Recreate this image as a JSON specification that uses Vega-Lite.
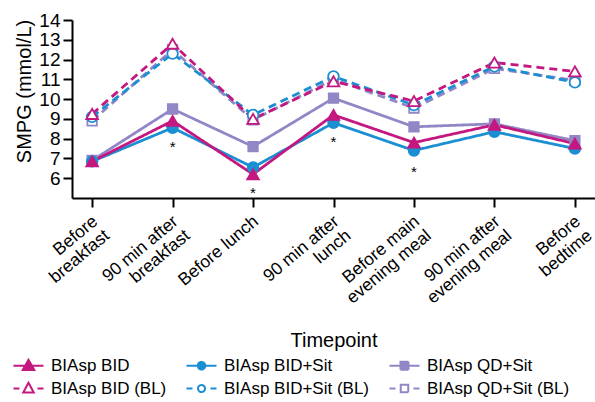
{
  "$schema": "https://vega.github.io/schema/vega-lite/v6.json",
  "width": 523,
  "height": 178,
  "autosize": {"type": "none"},
  "padding": {"left": 72, "top": 20, "right": 0, "bottom": 204},
  "config": {
    "font": "Liberation Sans",
    "view": {"stroke": null},
    "axis": {"domainColor": "black", "domainWidth": 2, "tickColor": "black", "tickWidth": 2, "labelColor": "black", "titleColor": "black", "grid": false, "labelFont": "Liberation Sans", "titleFont": "Liberation Sans", "titleFontWeight": "normal"}
  },
  "datasets": {
    "smpg": [
      {"Timepoint": "Before breakfast", "Series": "BIAsp QD+Sit (BL)", "Treatment": "QD+Sit", "Baseline": "Yes", "SMPG": 8.9},
      {"Timepoint": "90 min after breakfast", "Series": "BIAsp QD+Sit (BL)", "Treatment": "QD+Sit", "Baseline": "Yes", "SMPG": 12.5},
      {"Timepoint": "Before lunch", "Series": "BIAsp QD+Sit (BL)", "Treatment": "QD+Sit", "Baseline": "Yes", "SMPG": 8.95},
      {"Timepoint": "90 min after lunch", "Series": "BIAsp QD+Sit (BL)", "Treatment": "QD+Sit", "Baseline": "Yes", "SMPG": 11.0},
      {"Timepoint": "Before main evening meal", "Series": "BIAsp QD+Sit (BL)", "Treatment": "QD+Sit", "Baseline": "Yes", "SMPG": 9.55},
      {"Timepoint": "90 min after evening meal", "Series": "BIAsp QD+Sit (BL)", "Treatment": "QD+Sit", "Baseline": "Yes", "SMPG": 11.55},
      {"Timepoint": "Before bedtime", "Series": "BIAsp QD+Sit (BL)", "Treatment": "QD+Sit", "Baseline": "Yes", "SMPG": 10.95},
      {"Timepoint": "Before breakfast", "Series": "BIAsp BID+Sit (BL)", "Treatment": "BID+Sit", "Baseline": "Yes", "SMPG": 9.1},
      {"Timepoint": "90 min after breakfast", "Series": "BIAsp BID+Sit (BL)", "Treatment": "BID+Sit", "Baseline": "Yes", "SMPG": 12.3},
      {"Timepoint": "Before lunch", "Series": "BIAsp BID+Sit (BL)", "Treatment": "BID+Sit", "Baseline": "Yes", "SMPG": 9.2},
      {"Timepoint": "90 min after lunch", "Series": "BIAsp BID+Sit (BL)", "Treatment": "BID+Sit", "Baseline": "Yes", "SMPG": 11.15},
      {"Timepoint": "Before main evening meal", "Series": "BIAsp BID+Sit (BL)", "Treatment": "BID+Sit", "Baseline": "Yes", "SMPG": 9.7},
      {"Timepoint": "90 min after evening meal", "Series": "BIAsp BID+Sit (BL)", "Treatment": "BID+Sit", "Baseline": "Yes", "SMPG": 11.65},
      {"Timepoint": "Before bedtime", "Series": "BIAsp BID+Sit (BL)", "Treatment": "BID+Sit", "Baseline": "Yes", "SMPG": 10.85},
      {"Timepoint": "Before breakfast", "Series": "BIAsp BID (BL)", "Treatment": "BID", "Baseline": "Yes", "SMPG": 9.25},
      {"Timepoint": "90 min after breakfast", "Series": "BIAsp BID (BL)", "Treatment": "BID", "Baseline": "Yes", "SMPG": 12.8},
      {"Timepoint": "Before lunch", "Series": "BIAsp BID (BL)", "Treatment": "BID", "Baseline": "Yes", "SMPG": 9.0},
      {"Timepoint": "90 min after lunch", "Series": "BIAsp BID (BL)", "Treatment": "BID", "Baseline": "Yes", "SMPG": 10.9},
      {"Timepoint": "Before main evening meal", "Series": "BIAsp BID (BL)", "Treatment": "BID", "Baseline": "Yes", "SMPG": 9.9},
      {"Timepoint": "90 min after evening meal", "Series": "BIAsp BID (BL)", "Treatment": "BID", "Baseline": "Yes", "SMPG": 11.85},
      {"Timepoint": "Before bedtime", "Series": "BIAsp BID (BL)", "Treatment": "BID", "Baseline": "Yes", "SMPG": 11.4},
      {"Timepoint": "Before breakfast", "Series": "BIAsp QD+Sit", "Treatment": "QD+Sit", "Baseline": "No", "SMPG": 6.9},
      {"Timepoint": "90 min after breakfast", "Series": "BIAsp QD+Sit", "Treatment": "QD+Sit", "Baseline": "No", "SMPG": 9.5},
      {"Timepoint": "Before lunch", "Series": "BIAsp QD+Sit", "Treatment": "QD+Sit", "Baseline": "No", "SMPG": 7.6},
      {"Timepoint": "90 min after lunch", "Series": "BIAsp QD+Sit", "Treatment": "QD+Sit", "Baseline": "No", "SMPG": 10.05},
      {"Timepoint": "Before main evening meal", "Series": "BIAsp QD+Sit", "Treatment": "QD+Sit", "Baseline": "No", "SMPG": 8.6},
      {"Timepoint": "90 min after evening meal", "Series": "BIAsp QD+Sit", "Treatment": "QD+Sit", "Baseline": "No", "SMPG": 8.75},
      {"Timepoint": "Before bedtime", "Series": "BIAsp QD+Sit", "Treatment": "QD+Sit", "Baseline": "No", "SMPG": 7.9},
      {"Timepoint": "Before breakfast", "Series": "BIAsp BID+Sit", "Treatment": "BID+Sit", "Baseline": "No", "SMPG": 6.85},
      {"Timepoint": "90 min after breakfast", "Series": "BIAsp BID+Sit", "Treatment": "BID+Sit", "Baseline": "No", "SMPG": 8.55},
      {"Timepoint": "Before lunch", "Series": "BIAsp BID+Sit", "Treatment": "BID+Sit", "Baseline": "No", "SMPG": 6.55},
      {"Timepoint": "90 min after lunch", "Series": "BIAsp BID+Sit", "Treatment": "BID+Sit", "Baseline": "No", "SMPG": 8.8},
      {"Timepoint": "Before main evening meal", "Series": "BIAsp BID+Sit", "Treatment": "BID+Sit", "Baseline": "No", "SMPG": 7.4},
      {"Timepoint": "90 min after evening meal", "Series": "BIAsp BID+Sit", "Treatment": "BID+Sit", "Baseline": "No", "SMPG": 8.35},
      {"Timepoint": "Before bedtime", "Series": "BIAsp BID+Sit", "Treatment": "BID+Sit", "Baseline": "No", "SMPG": 7.5},
      {"Timepoint": "Before breakfast", "Series": "BIAsp BID", "Treatment": "BID", "Baseline": "No", "SMPG": 6.85},
      {"Timepoint": "90 min after breakfast", "Series": "BIAsp BID", "Treatment": "BID", "Baseline": "No", "SMPG": 8.9},
      {"Timepoint": "Before lunch", "Series": "BIAsp BID", "Treatment": "BID", "Baseline": "No", "SMPG": 6.2},
      {"Timepoint": "90 min after lunch", "Series": "BIAsp BID", "Treatment": "BID", "Baseline": "No", "SMPG": 9.2},
      {"Timepoint": "Before main evening meal", "Series": "BIAsp BID", "Treatment": "BID", "Baseline": "No", "SMPG": 7.8},
      {"Timepoint": "90 min after evening meal", "Series": "BIAsp BID", "Treatment": "BID", "Baseline": "No", "SMPG": 8.7},
      {"Timepoint": "Before bedtime", "Series": "BIAsp BID", "Treatment": "BID", "Baseline": "No", "SMPG": 7.75}
    ],
    "stars": [
      {"Timepoint": "90 min after breakfast", "SMPG": 7.8},
      {"Timepoint": "Before lunch", "SMPG": 5.47},
      {"Timepoint": "90 min after lunch", "SMPG": 8.05},
      {"Timepoint": "Before main evening meal", "SMPG": 6.52}
    ]
  },
  "encoding": {
    "x": {
      "field": "Timepoint", "type": "nominal", "title": "Timepoint",
      "scale": {"type": "point", "padding": 0.25, "domain": ["Before breakfast", "90 min after breakfast", "Before lunch", "90 min after lunch", "Before main evening meal", "90 min after evening meal", "Before bedtime"]},
      "axis": {
        "labelAngle": -40, "labelAlign": "right", "labelBaseline": "top", "labelFontSize": 17.5, "labelLineHeight": 18.5,
        "tickSize": 9, "labelPadding": 5, "labelOffset": -3, "labelLimit": 0, "labelOverlap": false,
        "labelExpr": "datum.label == 'Before breakfast' ? ['Before', 'breakfast'] : datum.label == '90 min after breakfast' ? ['90 min after', 'breakfast'] : datum.label == '90 min after lunch' ? ['90 min after', 'lunch'] : datum.label == 'Before main evening meal' ? ['Before main', 'evening meal'] : datum.label == '90 min after evening meal' ? ['90 min after', 'evening meal'] : datum.label == 'Before bedtime' ? ['Before', 'bedtime'] : datum.label",
        "titleFontSize": 20, "titleY": 148, "titleBaseline": "alphabetic"
      }
    },
    "y": {
      "field": "SMPG", "type": "quantitative", "title": "SMPG (mmol/L)",
      "scale": {"domain": [5, 14], "nice": false, "zero": false},
      "axis": {
        "values": [6, 7, 8, 9, 10, 11, 12, 13, 14], "tickSize": 9, "labelPadding": 3, "labelFontSize": 19,
        "titleFontSize": 20, "titleX": -48, "titleY": 71, "titleAlign": "center", "titleBaseline": "middle", "titleAngle": -90
      }
    }
  },
  "layer": [
    {
      "data": {"name": "smpg"},
      "mark": {"type": "line", "strokeWidth": 2.8},
      "encoding": {
        "stroke": {
          "field": "Series", "type": "nominal",
          "scale": {"domain": ["BIAsp BID", "BIAsp BID+Sit", "BIAsp QD+Sit", "BIAsp BID (BL)", "BIAsp BID+Sit (BL)", "BIAsp QD+Sit (BL)"], "range": ["#c4177f", "#1b8fd2", "#9287c6", "#c4177f", "#1b8fd2", "#9287c6"]},
          "legend": {
            "orient": "none", "legendX": -52, "legendY": 337, "direction": "horizontal", "columns": 3, "title": null, "padding": 0,
            "symbolSize": 100, "labelFontSize": 17, "labelOffset": 14, "columnPadding": 15, "rowPadding": 4, "labelColor": "black", "labelFont": "Liberation Sans",
            "encode": {
              "symbols": {
                "update": {
                  "shape": {"signal": "datum.value == 'BIAsp BID' ? 'M-3,0H3M0,-1.15L1.15,0.85H-1.15Z' : datum.value == 'BIAsp BID+Sit' ? 'M-3,0H3M-0.75,0A0.75,0.75 0 1,0 0.75,0A0.75,0.75 0 1,0 -0.75,0Z' : datum.value == 'BIAsp QD+Sit' ? 'M-3,0H3M-0.8,-0.8H0.8V0.8H-0.8Z' : datum.value == 'BIAsp BID (BL)' ? 'M-3,0H-1.8M1.8,0H3M0,-1.15L1.05,0.8H-1.05Z' : datum.value == 'BIAsp BID+Sit (BL)' ? 'M-3,0H-1.8M1.8,0H3M-0.7,0A0.7,0.7 0 1,0 0.7,0A0.7,0.7 0 1,0 -0.7,0Z' : 'M-3,0H-1.8M1.8,0H3M-0.75,-0.75H0.75V0.75H-0.75Z'"},
                  "fill": [{"test": "indexOf(datum.value, '(BL)') >= 0", "value": "white"}, {"scale": "stroke", "field": "value"}],
                  "stroke": {"scale": "stroke", "field": "value"},
                  "strokeWidth": {"value": 2},
                  "strokeDash": {"value": [1, 0]},
                  "opacity": {"value": 1},
                  "fillOpacity": {"value": 1}
                }
              }
            }
          }
        },
        "strokeDash": {"field": "Baseline", "type": "nominal", "scale": {"domain": ["No", "Yes"], "range": [[1, 0], [8, 5]]}, "legend": null},
        "detail": {"field": "Series"}
      }
    },
    {
      "data": {"name": "smpg"},
      "mark": {"type": "point", "filled": false, "strokeWidth": 1.8, "opacity": 1, "fillOpacity": 1},
      "encoding": {
        "stroke": {"field": "Series", "type": "nominal"},
        "fill": {
          "field": "Series", "type": "nominal", "legend": null,
          "scale": {"domain": ["BIAsp BID", "BIAsp BID+Sit", "BIAsp QD+Sit", "BIAsp BID (BL)", "BIAsp BID+Sit (BL)", "BIAsp QD+Sit (BL)"], "range": ["#c4177f", "#1b8fd2", "#9287c6", "white", "white", "white"]}
        },
        "shape": {"field": "Treatment", "type": "nominal", "legend": null, "scale": {"domain": ["BID", "BID+Sit", "QD+Sit"], "range": ["triangle-up", "circle", "square"]}},
        "size": {"field": "Treatment", "type": "ordinal", "legend": null, "scale": {"domain": ["BID", "BID+Sit", "QD+Sit"], "range": [135, 90, 100]}}
      }
    },
    {
      "data": {"name": "stars"},
      "mark": {"type": "text", "text": "*", "fontSize": 15, "color": "black", "baseline": "middle", "dy": 4}
    }
  ]
}
